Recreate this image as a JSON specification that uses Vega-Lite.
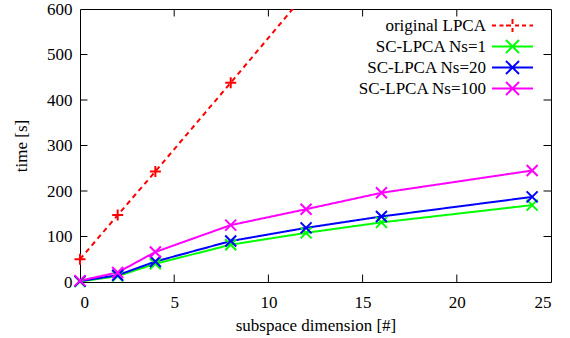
{
  "$schema": "https://vega.github.io/schema/vega-lite/v6.json",
  "width": 471,
  "height": 273,
  "autosize": {"type": "none"},
  "padding": {"left": 80, "top": 9, "right": 19, "bottom": 56},
  "config": {
    "font": "Liberation Serif",
    "view": {"stroke": "black", "strokeWidth": 1},
    "axis": {
      "domain": false,
      "ticks": false,
      "grid": false,
      "labelFont": "Liberation Serif",
      "labelFontSize": 17,
      "labelColor": "#000",
      "titleFont": "Liberation Serif",
      "titleFontSize": 17,
      "titleFontWeight": "normal",
      "titleColor": "#000"
    },
    "legend": {
      "orient": "none",
      "legendX": 424,
      "legendY": 8,
      "padding": 0,
      "labelAlign": "right",
      "labelOffset": -35,
      "labelFont": "Liberation Serif",
      "labelFontSize": 17,
      "labelColor": "#000",
      "symbolSize": 100,
      "symbolStrokeWidth": 2,
      "rowPadding": 0
    }
  },
  "datasets": {
    "timing": [
      {"series": "original LPCA", "dim": 0, "time": 50},
      {"series": "original LPCA", "dim": 2, "time": 147},
      {"series": "original LPCA", "dim": 4, "time": 243},
      {"series": "original LPCA", "dim": 8, "time": 438},
      {"series": "original LPCA", "dim": 12, "time": 635},
      {"series": "SC-LPCA Ns=1", "dim": 0, "time": 1},
      {"series": "SC-LPCA Ns=1", "dim": 2, "time": 13},
      {"series": "SC-LPCA Ns=1", "dim": 4, "time": 40},
      {"series": "SC-LPCA Ns=1", "dim": 8, "time": 82},
      {"series": "SC-LPCA Ns=1", "dim": 12, "time": 108},
      {"series": "SC-LPCA Ns=1", "dim": 16, "time": 131},
      {"series": "SC-LPCA Ns=1", "dim": 24, "time": 169},
      {"series": "SC-LPCA Ns=20", "dim": 0, "time": 2},
      {"series": "SC-LPCA Ns=20", "dim": 2, "time": 15},
      {"series": "SC-LPCA Ns=20", "dim": 4, "time": 45},
      {"series": "SC-LPCA Ns=20", "dim": 8, "time": 90},
      {"series": "SC-LPCA Ns=20", "dim": 12, "time": 119},
      {"series": "SC-LPCA Ns=20", "dim": 16, "time": 144},
      {"series": "SC-LPCA Ns=20", "dim": 24, "time": 187},
      {"series": "SC-LPCA Ns=100", "dim": 0, "time": 3},
      {"series": "SC-LPCA Ns=100", "dim": 2, "time": 21},
      {"series": "SC-LPCA Ns=100", "dim": 4, "time": 66},
      {"series": "SC-LPCA Ns=100", "dim": 8, "time": 125},
      {"series": "SC-LPCA Ns=100", "dim": 12, "time": 160},
      {"series": "SC-LPCA Ns=100", "dim": 16, "time": 196},
      {"series": "SC-LPCA Ns=100", "dim": 24, "time": 245}
    ],
    "yticks": [{"v": 100}, {"v": 200}, {"v": 300}, {"v": 400}, {"v": 500}],
    "xticks": [{"v": 5}, {"v": 10}, {"v": 15}, {"v": 20}]
  },
  "layer": [
    {
      "data": {"name": "timing"},
      "mark": {"type": "line", "strokeWidth": 2, "clip": true},
      "encoding": {
        "x": {
          "field": "dim", "type": "quantitative",
          "scale": {"domain": [0, 25], "nice": false, "zero": false},
          "axis": {"orient": "bottom", "values": [0, 5, 10, 15, 20, 25], "title": "subspace dimension [#]", "labelPadding": 12, "titleX": 235.5, "titleY": 43, "titleBaseline": "middle", "titleAlign": "center", "labelFont": "Liberation Serif", "labelFontSize": 17}
        },
        "y": {
          "field": "time", "type": "quantitative",
          "scale": {"domain": [0, 600], "nice": false},
          "axis": {"orient": "left", "values": [0, 100, 200, 300, 400, 500, 600], "title": "time [s]", "labelPadding": 8, "titleX": -59, "titleY": 136.5, "titleAngle": -90, "titleBaseline": "middle", "titleAlign": "center", "labelFont": "Liberation Serif", "labelFontSize": 17}
        },
        "color": {
          "field": "series", "type": "nominal",
          "scale": {"domain": ["original LPCA", "SC-LPCA Ns=1", "SC-LPCA Ns=20", "SC-LPCA Ns=100"], "range": ["#ff0000", "#00ff00", "#0000ff", "#ff00ff"]},
          "legend": {
            "title": null,
            "encode": {
              "symbols": {
                "update": {
                  "shape": {"signal": "datum.value === 'original LPCA' ? 'M-4.1,0H-3.3M-2.6,0H-1.8M-1.3,0H1.3M0,-1.3V1.3M1.9,0H2.7M3.4,0H4.1' : 'M-4.1,0H4.1M-1.3,-1.3L1.3,1.3M-1.3,1.3L1.3,-1.3'"},
                  "strokeWidth": {"value": 2},
                  "strokeDash": {"value": []},
                  "opacity": {"value": 1}
                }
              }
            }
          }
        },
        "strokeDash": {
          "field": "series", "type": "nominal",
          "scale": {"domain": ["original LPCA", "SC-LPCA Ns=1", "SC-LPCA Ns=20", "SC-LPCA Ns=100"], "range": [[5, 4], [1, 0], [1, 0], [1, 0]]},
          "legend": null
        }
      }
    },
    {
      "data": {"name": "timing"},
      "transform": [{"filter": "datum.time <= 600 && datum.series === 'original LPCA'"}],
      "mark": {"type": "point", "filled": false, "strokeWidth": 2, "size": 121, "opacity": 1, "shape": "M-1,0H1M0,-1V1"},
      "encoding": {
        "x": {"field": "dim", "type": "quantitative"},
        "y": {"field": "time", "type": "quantitative"},
        "color": {"field": "series", "type": "nominal", "legend": null}
      }
    },
    {
      "data": {"name": "timing"},
      "transform": [{"filter": "datum.series !== 'original LPCA'"}],
      "mark": {"type": "point", "filled": false, "strokeWidth": 2, "size": 121, "opacity": 1, "shape": "M-1,-1L1,1M-1,1L1,-1"},
      "encoding": {
        "x": {"field": "dim", "type": "quantitative"},
        "y": {"field": "time", "type": "quantitative"},
        "color": {"field": "series", "type": "nominal", "legend": null}
      }
    },
    {
      "data": {"name": "yticks"},
      "mark": {"type": "point", "filled": false, "stroke": "#000000", "strokeWidth": 1, "size": 56, "opacity": 1, "shape": "M0,0H2"},
      "encoding": {
        "x": {"datum": 0, "type": "quantitative"},
        "y": {"field": "v", "type": "quantitative"}
      }
    },
    {
      "data": {"name": "yticks"},
      "mark": {"type": "point", "filled": false, "stroke": "#000000", "strokeWidth": 1, "size": 56, "opacity": 1, "shape": "M0,0H-2"},
      "encoding": {
        "x": {"datum": 25, "type": "quantitative"},
        "y": {"field": "v", "type": "quantitative"}
      }
    },
    {
      "data": {"name": "xticks"},
      "mark": {"type": "point", "filled": false, "stroke": "#000000", "strokeWidth": 1, "size": 56, "opacity": 1, "shape": "M0,0V-2"},
      "encoding": {
        "x": {"field": "v", "type": "quantitative"},
        "y": {"datum": 0, "type": "quantitative"}
      }
    },
    {
      "data": {"name": "xticks"},
      "mark": {"type": "point", "filled": false, "stroke": "#000000", "strokeWidth": 1, "size": 56, "opacity": 1, "shape": "M0,0V2"},
      "encoding": {
        "x": {"field": "v", "type": "quantitative"},
        "y": {"datum": 600, "type": "quantitative"}
      }
    }
  ]
}
